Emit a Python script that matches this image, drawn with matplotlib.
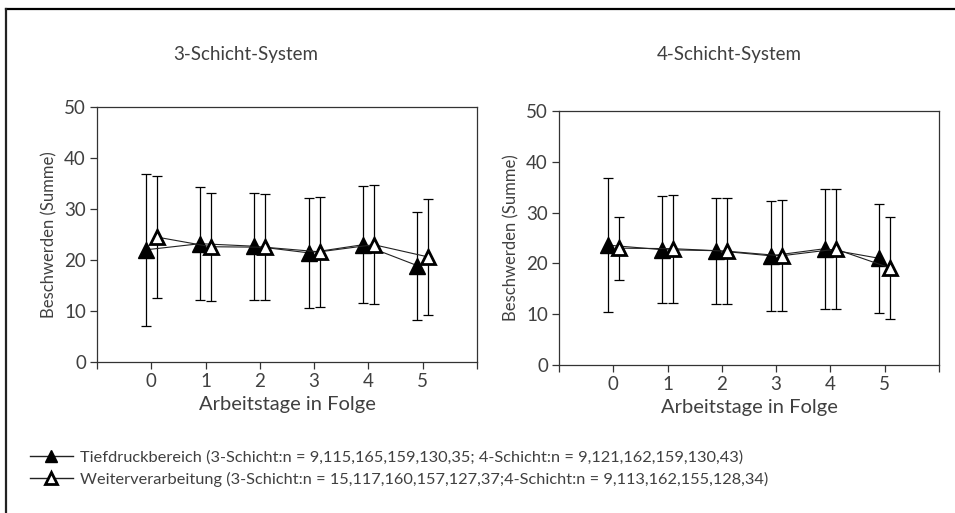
import matplotlib
matplotlib.use("Agg")
import matplotlib.pyplot as plt
from matplotlib.lines import Line2D

plt.rcParams['font.family'] = ['Lato', 'DejaVu Sans']
plt.rcParams['font.weight'] = 'normal'
TXT = '#404040'

days = [0, 1, 2, 3, 4, 5]
panel_titles = ['3-Schicht-System', '4-Schicht-System']

# mean and standard deviation of complaint sums per consecutive working day
tief_3_mean = [22.0, 23.2, 22.7, 21.4, 23.0, 18.9]
tief_3_sd = [14.9, 11.1, 10.5, 10.8, 11.5, 10.6]
weiter_3_mean = [24.5, 22.6, 22.5, 21.6, 23.0, 20.6]
weiter_3_sd = [11.9, 10.6, 10.4, 10.8, 11.7, 11.4]

tief_4_mean = [23.6, 22.7, 22.5, 21.5, 22.9, 21.0]
tief_4_sd = [13.2, 10.5, 10.4, 10.8, 11.8, 10.7]
weiter_4_mean = [23.0, 22.9, 22.4, 21.5, 22.8, 19.1]
weiter_4_sd = [6.2, 10.6, 10.4, 10.9, 11.8, 10.0]

legend_labels = [
    'Tiefdruckbereich (3-Schicht:n = 9,115,165,159,130,35; 4-Schicht:n = 9,121,162,159,130,43)',
    'Weiterverarbeitung (3-Schicht:n = 15,117,160,157,127,37;4-Schicht:n = 9,113,162,155,128,34)',
]

fig = plt.figure(figsize=(9.55, 5.13), dpi=100)

# outer frame (top and left edges)
fig.add_artist(Line2D([6 / 955, 1.0], [1 - 9 / 513, 1 - 9 / 513], transform=fig.transFigure,
                      color='black', lw=1.6))
fig.add_artist(Line2D([6 / 955, 6 / 955], [0.0, 1 - 9 / 513], transform=fig.transFigure,
                      color='#222222', lw=1.6))

axes_rects = [
    [97 / 955, 151 / 513, 380 / 955, 255 / 513],
    [559 / 955, 148 / 513, 380 / 955, 254 / 513],
]
data = [
    (tief_3_mean, tief_3_sd, weiter_3_mean, weiter_3_sd),
    (tief_4_mean, tief_4_sd, weiter_4_mean, weiter_4_sd),
]
title_x = [246 / 955, 729 / 955]

for i, (rect, (tm, ts, wm, ws)) in enumerate(zip(axes_rects, data)):
    ax = fig.add_axes(rect)
    xt = [d - 0.1 for d in days]
    xw = [d + 0.1 for d in days]
    ax.errorbar(xt, tm, yerr=ts, fmt='none', ecolor='black', elinewidth=0.9,
                capsize=3.5, capthick=0.9, zorder=2)
    ax.errorbar(xw, wm, yerr=ws, fmt='none', ecolor='black', elinewidth=0.9,
                capsize=3.5, capthick=0.9, zorder=2)
    ax.plot(xt, tm, color='#222222', lw=0.8, marker='^', ms=11.5,
            mfc='black', mec='black', mew=1.0, zorder=3)
    ax.plot(xw, wm, color='#222222', lw=0.8, marker='^', ms=10.5,
            mfc='white', mec='black', mew=2.0, zorder=4)

    ax.set_xlim(-1, 6)
    ax.set_ylim(0, 50)
    ax.set_xticks(range(-1, 7))
    ax.set_xticklabels([''] + [str(d) for d in days] + [''])
    ax.set_yticks([0, 10, 20, 30, 40, 50])
    ax.tick_params(axis='both', direction='out', length=5, width=0.9, color='#333333',
                   labelsize=13.5, labelcolor=TXT, pad=3)
    for s in ax.spines.values():
        s.set_color('#333333')
        s.set_linewidth(0.9)
    ax.set_xlabel('Arbeitstage in Folge', fontsize=14.5, color=TXT, labelpad=4)
    ax.set_ylabel('Beschwerden (Summe)', fontsize=12, color=TXT, labelpad=5)
    fig.text(title_x[i], 1 - 55 / 513, panel_titles[i], ha='center', va='center',
             fontsize=13.5, color=TXT)

# legend keys: short line with a triangle in the middle
legend_handles = [
    Line2D([], [], color='#222222', lw=1.0, marker='^', ms=9, mfc='black', mec='black', mew=1.0),
    Line2D([], [], color='#222222', lw=1.0, marker='^', ms=8, mfc='white', mec='black', mew=2.0),
]
fig.legend(legend_handles, legend_labels, loc='upper left', bbox_to_anchor=(30 / 955, 1 - 450 / 513),
           frameon=False, fontsize=11.8, handlelength=2.6, handletextpad=0.45,
           labelspacing=0.45, borderaxespad=0, borderpad=0, labelcolor=TXT)

fig.savefig('out.png', dpi=100)
